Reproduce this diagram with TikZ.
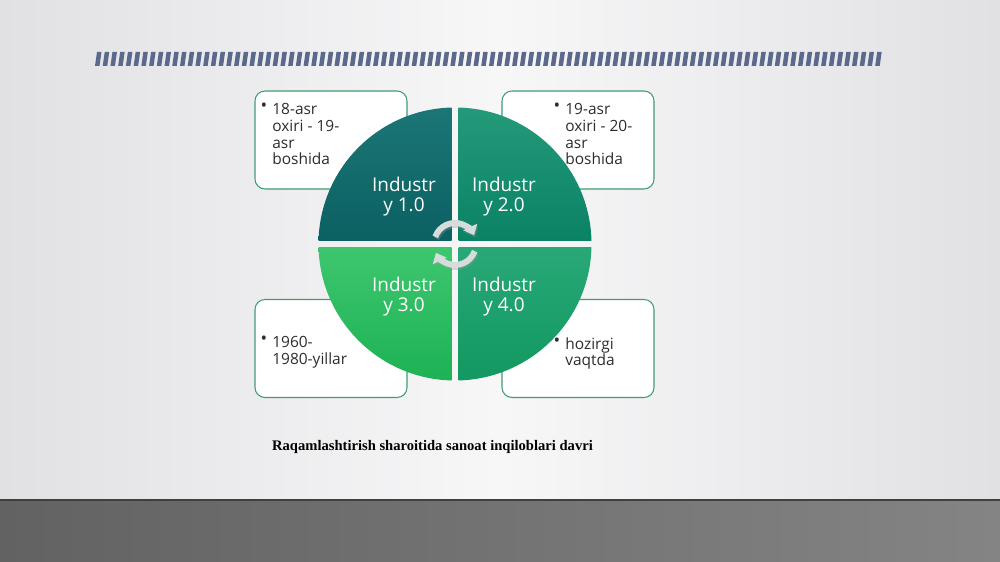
\documentclass[tikz,border=0pt]{standalone}
\usepackage{fontspec}
\setmainfont{Open Sans}
\newfontfamily\captionfont{Liberation Serif}
\usetikzlibrary{arrows.meta}
\definecolor{bgside}{RGB}{225,225,228}
\definecolor{bgmid}{RGB}{247,247,248}
\definecolor{floordark}{RGB}{98,98,98}
\definecolor{floorlight}{RGB}{132,132,132}
\definecolor{stripe}{RGB}{92,104,140}
\definecolor{qonetop}{RGB}{28,118,118}
\definecolor{qone}{RGB}{11,96,98}
\definecolor{qtwotop}{RGB}{36,154,122}
\definecolor{qtwo}{RGB}{10,130,100}
\definecolor{qthreetop}{RGB}{62,198,110}
\definecolor{qthree}{RGB}{28,178,84}
\definecolor{qfourtop}{RGB}{40,168,118}
\definecolor{qfour}{RGB}{18,152,96}
\definecolor{boxline}{RGB}{64,156,118}
\definecolor{boxtextcol}{RGB}{45,45,45}
\definecolor{arrowgray}{RGB}{212,220,220}
\newcommand{\itembullet}{\raisebox{0.35ex}{\fontsize{10}{10}\selectfont\textbullet}\hspace{0.1cm}}

\begin{document}
\begin{tikzpicture}[
    infobox/.style={draw=boxline, line width=0.6pt, fill=white, rounded corners=0.2cm, minimum width=3.04cm, minimum height=1.96cm},
    itemtext/.style={anchor=north west, inner sep=0pt, align=left, text=boxtextcol, font=\fontsize{8.8}{9.5}\selectfont},
    quadlabel/.style={align=center, text=white, font=\fontsize{10.8}{11.4}\selectfont},
    cyclearrow/.style={arrowgray, line width=0.12cm, -{Triangle[width=0.3cm,length=0.18cm]}}
]
    \useasboundingbox (0,0) rectangle (20,11.24);
    % background and floor
    \shade[left color=bgside, right color=bgside, middle color=bgmid] (0,1.24) rectangle (20,11.24);
    \shade[left color=floordark, right color=floorlight] (0,0) rectangle (20,1.24);
    \draw[line width=0.05cm, black!75] (0,1.24) -- (20,1.24);

    % striped bar
    \foreach \i in {0,...,101}
        \fill[stripe] ({1.9+0.1545*\i},9.92) -- ++(0.09,0) -- ++(0.04,0.28) -- ++(-0.09,0) -- cycle;

    % info boxes
    \node[infobox] (box1) at (6.62,8.44) {};
    \node[infobox] (box2) at (11.56,8.44) {};
    \node[infobox] (box3) at (6.62,4.27) {};
    \node[infobox] (box4) at (11.56,4.27) {};
    \node[itemtext] (item1) at (5.44,9.18) {\llap{\itembullet}18-asr\\oxiri - 19-\\asr\\boshida};
    \node[itemtext] (item2) at (11.3,9.18) {\llap{\itembullet}19-asr\\oxiri - 20-\\asr\\boshida};
    \node[itemtext] (item3) at (5.44,4.52) {\llap{\itembullet}1960-\\1980-yillar};
    \node[itemtext] (item4) at (11.3,4.5) {\llap{\itembullet}hozirgi\\vaqtda};

    % circle in four parts
    \begin{scope}
        \clip (9.1,6.36) circle (2.73);
        \shade[top color=qonetop, bottom color=qone] (6.3,6.43) rectangle (9.03,9.1);
        \shade[top color=qtwotop, bottom color=qtwo] (9.17,6.43) rectangle (11.9,9.1);
        \shade[top color=qthreetop, bottom color=qthree] (6.3,3.6) rectangle (9.03,6.29);
        \shade[top color=qfourtop, bottom color=qfour] (9.17,3.6) rectangle (11.9,6.29);
    \end{scope}
    \node[quadlabel] (ind1) at (8.08,7.3) {Industr\\y 1.0};
    \node[quadlabel] (ind2) at (10.08,7.3) {Industr\\y 2.0};
    \node[quadlabel] (ind3) at (8.08,5.3) {Industr\\y 3.0};
    \node[quadlabel] (ind4) at (10.08,5.3) {Industr\\y 4.0};

    % cycle arrows
    \coordinate (hub) at (9.1,6.36);
    \draw[cyclearrow, black!40, opacity=0.35] ([shift={(160:0.42)}]hub) ++(0.02,-0.04) arc (160:25:0.42);
    \draw[cyclearrow, black!40, opacity=0.35] ([shift={(-20:0.42)}]hub) ++(0.02,-0.04) arc (-20:-155:0.42);
    \draw[cyclearrow] ([shift={(160:0.42)}]hub) arc (160:25:0.42);
    \draw[cyclearrow] ([shift={(-20:0.42)}]hub) arc (-20:-155:0.42);

    % caption
    \node[font=\captionfont\bfseries\fontsize{8.3}{10}\selectfont] (caption) at (8.65,2.3) {Raqamlashtirish sharoitida sanoat inqiloblari davri};
\end{tikzpicture}
\end{document}
